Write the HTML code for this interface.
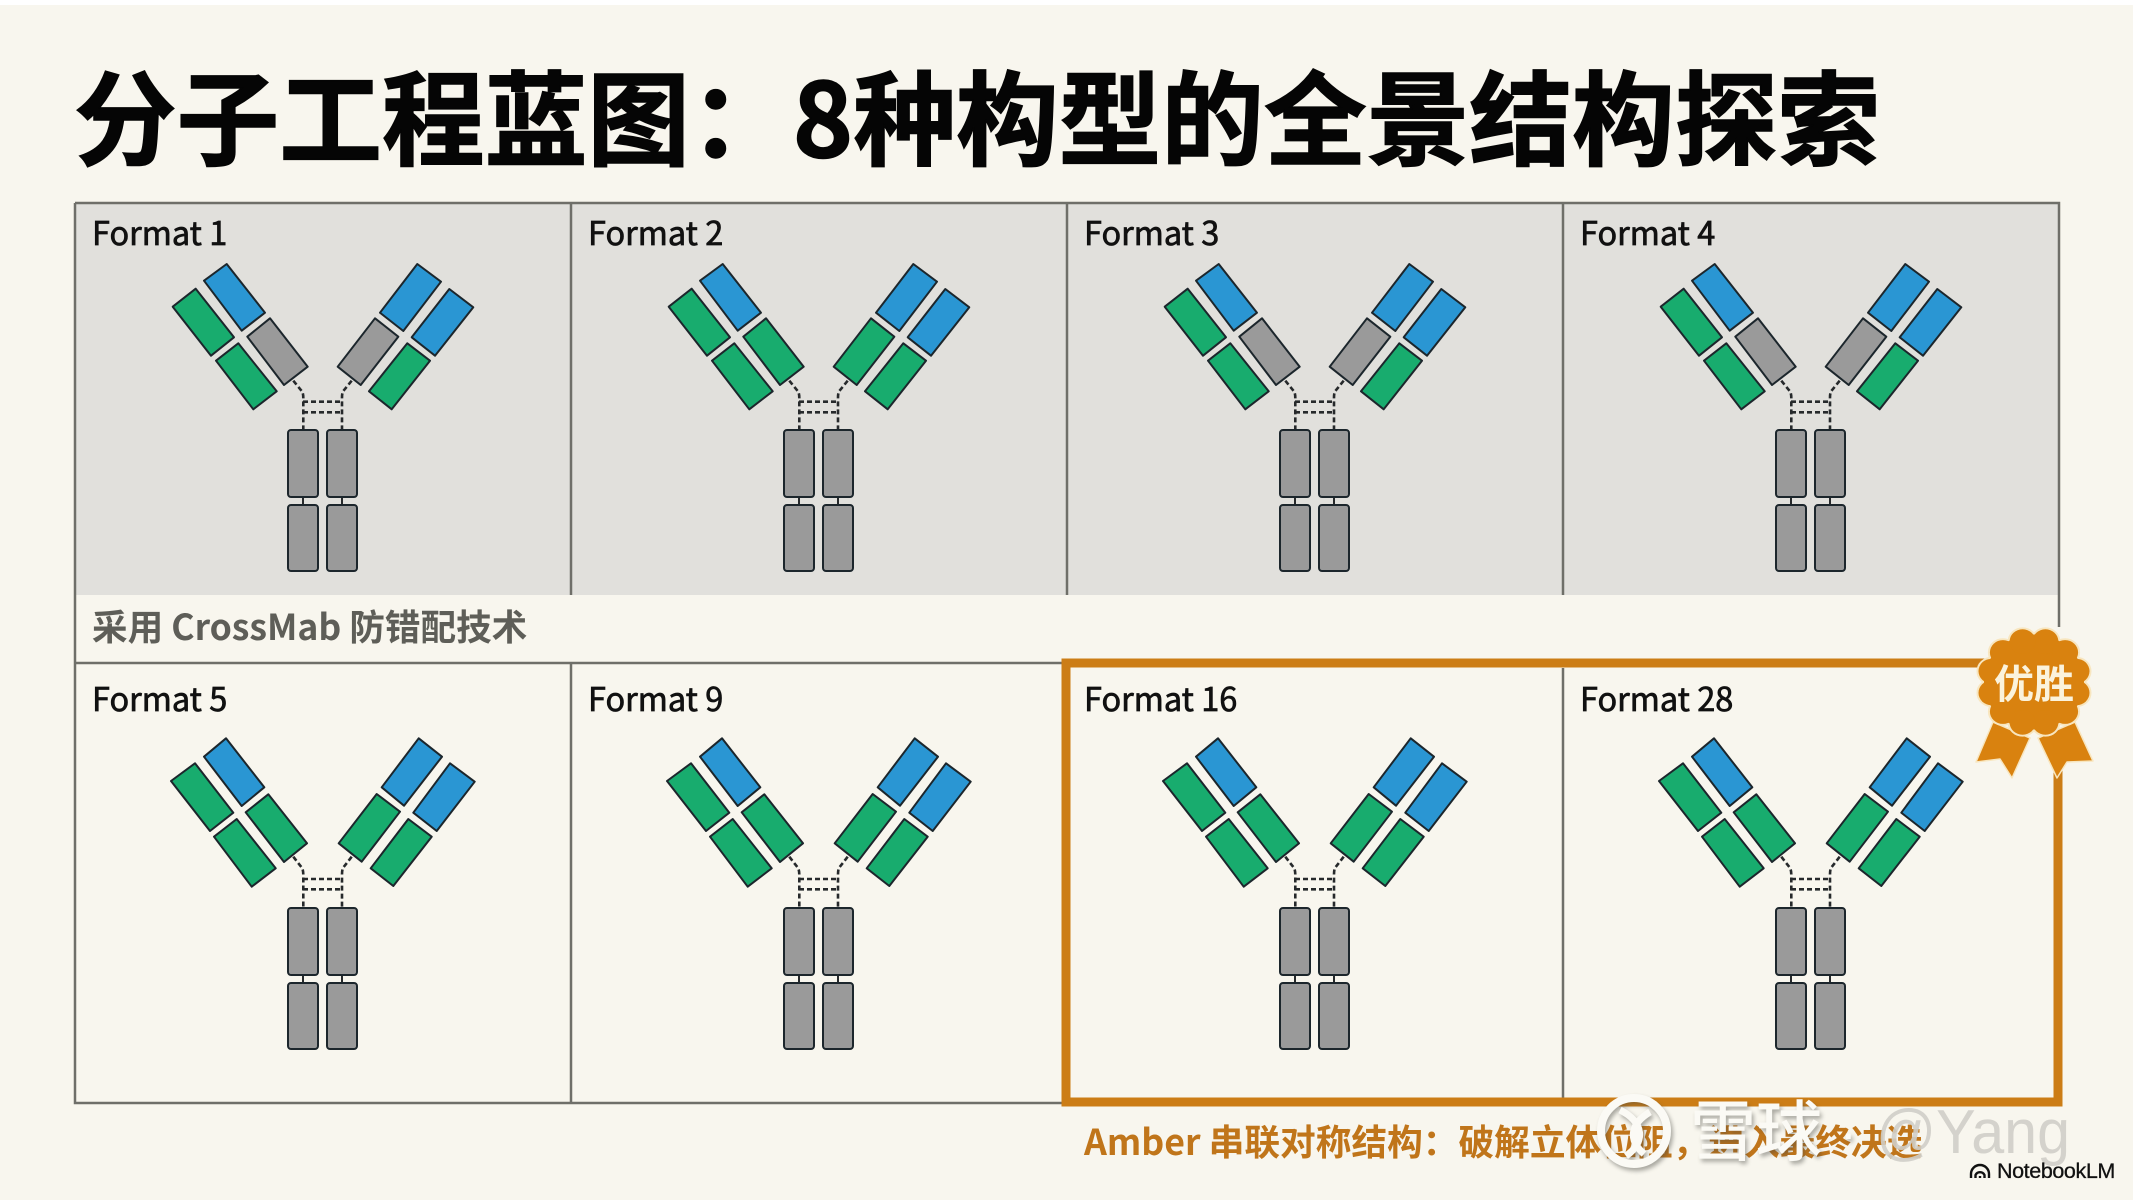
<!DOCTYPE html>
<html lang="zh"><head><meta charset="utf-8"><style>
html,body{margin:0;padding:0;background:#f8f6ee;width:2133px;height:1200px;overflow:hidden}
svg{display:block}
text{font-family:"Liberation Sans","Noto Sans CJK SC",sans-serif}
.cjk{font-family:"Noto Sans CJK SC","Liberation Sans",sans-serif}
.l{font-family:"Noto Sans CJK SC","Liberation Sans",sans-serif;font-size:32.500px;font-weight:400;fill:#111;stroke:#111;stroke-width:.7}
.ab polygon,.ab rect{stroke:#1c262c;stroke-width:2;stroke-linejoin:round}
.b{fill:#2a96d3}.g{fill:#18ac6e}.n{fill:#9a9a9a}
.d{fill:none;stroke:#26292b;stroke-width:2.6;stroke-dasharray:5 3}
.s{fill:none;stroke:#26292b;stroke-width:2}
.wm{filter:drop-shadow(2px 3px 2px rgba(70,70,65,.45))}
</style></head><body>
<svg width="2133" height="1200" viewBox="0 0 2133 1200" xmlns="http://www.w3.org/2000/svg">
<defs>
<g id="top" class="ab">
<path class="s" d="M303 497v8M342 497v8"/>
<path class="d" d="M293.300 380.700L302.300 391.700Q303.300 394 303.300 398V430M351.700 380.700L342.700 391.700Q342 394 342 398V430M303 401.700H342M303 412.300H342"/>
<polygon class="b" points="226.700,264 265,312.700 241.700,330.700 204,280.700"/>
<polygon class="g" points="195.700,288.700 234,337.300 211,355.700 172.700,306.700"/>
<polygon fill="currentColor" points="270,318.300 307.700,366.700 284,385 247.300,336.700"/>
<polygon class="g" points="238.300,343.300 276.700,391.300 253.300,409.300 216,360.700"/>
<polygon class="b" points="417.300,264 441,281.700 403.300,331 380,312.700"/>
<polygon class="b" points="449.300,289 473.300,307.300 435,355.700 411.700,337.300"/>
<polygon fill="currentColor" points="375,318.300 398.300,336.700 360.700,385 337.700,366.700"/>
<polygon class="g" points="407.300,343.300 430,360.700 391.700,409.300 369,391.300"/>
<rect class="n" x="288" y="430" width="30" height="67" rx="3"/><rect class="n" x="327" y="430" width="30" height="67" rx="3"/>
<rect class="n" x="288" y="505" width="30" height="66" rx="3"/><rect class="n" x="327" y="505" width="30" height="66" rx="3"/>
</g>
<g id="bot" class="ab">
<path class="s" d="M303 975v8M342 975v8"/>
<path class="d" d="M293.300 856.700L302.300 868.300Q303.300 871 303.300 875V908M351.700 856.700L342.700 868.300Q342 871 342 875V908M303 879H342M303 889.300H342"/>
<polygon class="b" points="226,738.300 264.300,787.300 241.700,806 204,756.700"/>
<polygon class="g" points="195,763.300 233.300,812.700 210,831 171,781"/>
<polygon class="g" points="268.300,794.300 307,843.300 284,862 245.700,812.300"/>
<polygon class="g" points="236.700,819 275.700,868.300 251.700,886.700 214,836.700"/>
<polygon class="b" points="418.700,738.300 442,756.700 404,805.700 381.700,787.300"/>
<polygon class="b" points="450,763.300 474.700,781.700 436.700,831 413.300,812.700"/>
<polygon class="g" points="376.700,794 400,811.700 361.700,861.700 338.700,843.300"/>
<polygon class="g" points="408.300,819 431.700,836.700 393.300,886 370.700,868.300"/>
<rect class="n" x="288" y="908" width="30" height="67" rx="3"/><rect class="n" x="327" y="908" width="30" height="67" rx="3"/>
<rect class="n" x="288" y="983" width="30" height="66" rx="3"/><rect class="n" x="327" y="983" width="30" height="66" rx="3"/>
</g>
<g id="scal">
<circle r="50" cx="0" cy="0"/>
<circle cx="11.400" cy="-42.500" r="13"/><circle cx="31.100" cy="-31.100" r="13"/><circle cx="42.500" cy="-11.400" r="13"/>
<circle cx="42.500" cy="11.400" r="13"/><circle cx="31.100" cy="31.100" r="13"/><circle cx="11.400" cy="42.500" r="13"/>
<circle cx="-11.400" cy="42.500" r="13"/><circle cx="-31.100" cy="31.100" r="13"/><circle cx="-42.500" cy="11.400" r="13"/>
<circle cx="-42.500" cy="-11.400" r="13"/><circle cx="-31.100" cy="-31.100" r="13"/><circle cx="-11.400" cy="-42.500" r="13"/>
</g>
</defs>

<rect width="2133" height="1200" fill="#f8f6ee"/>
<rect width="2133" height="5" fill="#ffffff"/>

<text class="cjk" x="74" y="157" font-size="102.500" font-weight="700" fill="#050505" stroke="#050505" stroke-width="1.500" textLength="1806">分子工程蓝图：8种构型的全景结构探索</text>

<!-- grid -->
<rect x="75" y="203" width="1984" height="392" fill="#e1e0dc"/>
<g stroke="#6f6f69" stroke-width="2.500" fill="none">
<path d="M75 203H2059V627M75 203V1103H1063M75 663H1063M571 203V595M1067 203V595M1563 203V595M571 663V1103M1563 668V1100"/>
</g>

<text class="cjk" x="92" y="640" font-size="35.600" font-weight="700" fill="#5e5e58">采用 CrossMab 防错配技术</text>

<!-- orange frame -->
<path d="M1990 663H1066V1102H2058V770" fill="none" stroke="#cc7d16" stroke-width="9"/>

<!-- antibodies -->
<use href="#top" color="#9a9a9a"/>
<use href="#top" color="#18ac6e" transform="translate(496 0)"/>
<use href="#top" color="#9a9a9a" transform="translate(992 0)"/>
<use href="#top" color="#9a9a9a" transform="translate(1488 0)"/>
<use href="#bot"/>
<use href="#bot" transform="translate(496 0)"/>
<use href="#bot" transform="translate(992 0)"/>
<use href="#bot" transform="translate(1488 0)"/>

<text class="l" x="92" y="245">Format 1</text>
<text class="l" x="588" y="245">Format 2</text>
<text class="l" x="1084" y="245">Format 3</text>
<text class="l" x="1580" y="245">Format 4</text>
<text class="l" x="92" y="711">Format 5</text>
<text class="l" x="588" y="711">Format 9</text>
<text class="l" x="1084" y="711">Format 16</text>
<text class="l" x="1580" y="711">Format 28</text>

<!-- badge -->
<g fill="#d9820f" stroke="#f8e6bf" stroke-width="1.500" stroke-linejoin="round">
<polygon points="1993,722 2030,738 2012,778 2000,759 1976,762"/>
<polygon points="2075,722 2038,738 2057,778 2067,762 2093,761"/>
</g>
<g transform="translate(2034 682) scale(1 .95)">
<use href="#scal" fill="#f8e6bf" stroke="#f8e6bf" stroke-width="4"/>
<use href="#scal" fill="#d9820f"/>
</g>
<text class="cjk" x="2034" y="698" text-anchor="middle" font-size="40" font-weight="700" fill="#fbf3dc">优胜</text>

<!-- caption -->
<text class="cjk" x="1084" y="1155" font-size="35.700" font-weight="700" fill="#c0751a">Amber 串联对称结构：破解立体位阻，进入最终决选</text>

<!-- watermark -->
<g class="wm">
<circle cx="1634" cy="1131" r="33" fill="none" stroke="#fbfaf5" stroke-width="8"/>
<path d="M1620 1110c24 12 26 32 6 46M1650 1112c-20 12-22 28-6 42" fill="none" stroke="#fbfaf5" stroke-width="7"/>
<text class="cjk" x="1690" y="1155" font-size="66" font-weight="500" fill="#fbfaf5">雪球</text>
<text x="1840" y="1150" font-size="50" fill="#fbfaf5">·</text>
</g>
<text x="1876" y="1153" font-size="62" fill="#cfcec8" fill-opacity=".9" textLength="194" lengthAdjust="spacingAndGlyphs">@Yang</text>

<!-- NotebookLM -->
<g fill="none" stroke="#111" stroke-width="2.400">
<path d="M1971 1178v-4a9 9 0 0 1 18 0v4M1975.500 1178v-3a5 5 0 0 1 9 0v3M1980 1178v-2"/>
</g>
<text x="1997" y="1178" font-size="21.500" letter-spacing="-.4" fill="#111" stroke="#111" stroke-width=".3">NotebookLM</text>
</svg>
</body></html>
